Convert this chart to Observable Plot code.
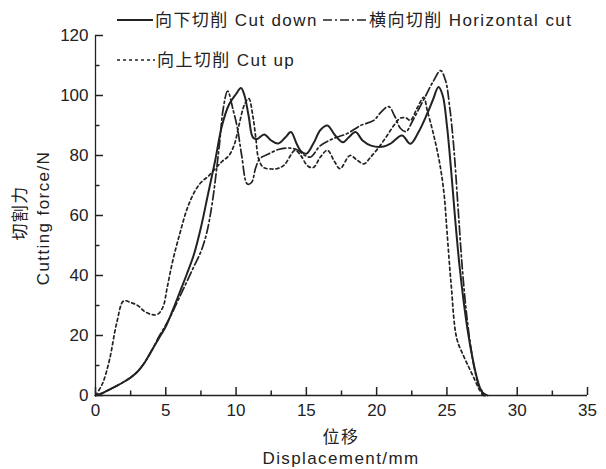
<!DOCTYPE html>
<html><head><meta charset="utf-8">
<script src="https://cdn.jsdelivr.net/npm/d3@7"></script>
<script src="https://cdn.jsdelivr.net/npm/@observablehq/plot@0.6"></script>
<style>
body{margin:0;background:#fff;}
#wrap{position:relative;width:606px;height:469px;font-family:"Liberation Sans","Noto Sans CJK SC",sans-serif;color:#222;overflow:hidden;}
.t{position:absolute;white-space:nowrap;font-size:17px;line-height:1;letter-spacing:1.4px;}
.rot{position:absolute;white-space:nowrap;font-size:17px;line-height:1;letter-spacing:1.4px;transform:translate(-50%,-50%) rotate(-90deg);}
</style></head><body><div id="wrap"></div>
<script>
// ---- data ----
const seriesNames = ["向下切削 Cut down", "横向切削 Horizontal cut", "向上切削 Cut up"];

const cutDownX = [0,0.5,1,1.5,2,2.5,3,3.5,4,4.5,5,5.5,6,6.5,7,7.5,8,8.5,9,9.5,10,10.35,10.6,10.9,11.2,11.5,12,12.5,13,13.5,13.9,14.3,14.6,15,15.5,16,16.5,17,17.6,18,18.5,19,19.6,20.5,21,21.8,22.4,23,23.6,24,24.4,24.7,25,25.3,25.6,25.9,26.2,26.5,26.8,27.1,27.4,27.7];
const cutDownY = [0,0.8,2,3.2,4.5,6,8,11,15,19,23,28.5,34.5,40.5,47,56,67,78,90,97,100.5,102.5,100,93,86,85.5,87,85,84,86,87.8,84,81.5,80.6,84,88.5,90,87,84.4,86,87.8,85,83.3,83,84,86.7,83.9,88,94,98.5,102.8,100,90,75,58,43,31,21,13,6.5,2,0];

const horizX = [0,0.5,1,1.5,2,2.5,3,3.5,4,4.5,5,5.5,6,6.5,7,7.5,7.9,8.3,8.8,9.1,9.4,9.8,10.1,10.4,10.8,11.1,11.4,11.7,12.3,13,13.7,14.3,14.9,15.3,16,16.9,17.9,18.85,19.8,20.3,20.85,21.3,21.7,22.1,22.5,23,23.5,24,24.55,24.9,25.2,25.5,25.8,26.1,26.4,26.7,27,27.3,27.6,27.9];
const horizY = [0,0.8,2,3.2,4.5,6,8,11,15,19.5,23.5,28,33,38,43,48,54,64,83,96,101.5,95,89,80,70.5,71,76,79,80.5,82,82.5,82,80,79.5,83.3,85.6,87.3,90,91.7,94.4,96.3,93,89,88,91,95.5,100,104.5,108.3,105,96,82,62,42,27,16,8,3,0.8,0];

const cutUpX = [0,0.5,1,1.5,2,2.5,3,3.5,4,4.4,4.8,5.1,5.5,6,6.5,7,7.5,8,8.5,9,9.5,9.9,10.2,10.6,10.9,11.2,11.4,11.6,11.95,12.5,12.9,13.4,14.2,14.6,15.1,15.5,16,16.5,17,17.4,18.1,18.6,19.1,19.56,20.2,20.75,21.3,21.7,22.1,22.4,22.9,23.35,23.6,24.05,24.5,24.8,25,25.3,25.7,26.2,26.6,27,27.3,27.6];
const cutUpY = [0,4,12,24,31.5,31,30,28,27,27,29.5,36,45,54,62,67.5,71,73,75.5,78,80,84,90,97,99,93,86,79,76,75.5,75.6,76.7,81.7,80,76.5,76,79.5,81.7,78,75.6,80,78.5,77.2,79.4,83,86.7,90.5,92.5,92.5,91.7,96,99.4,95,87,77,67,55,37,19,13,9,5,2,0];

const xTicks = [0,5,10,15,20,25,30,35];
const xMinor = [2.5,7.5,12.5,17.5,22.5,27.5,32.5];
const yTicks = [0,20,40,60,80,100,120];
const yMinor = [10,30,50,70,90,110];

// ---- layout ----
const W = 606, H = 469, mL = 95, mR = 19, mT = 35, mB = 74;
const xDomain = [0, 35], yDomain = [0, 120];
// inward tick lengths, converted from pixels into data units
const pxPerX = (W - mL - mR) / (xDomain[1] - xDomain[0]);
const pxPerY = (H - mT - mB) / (yDomain[1] - yDomain[0]);
const tickMajX = 8 / pxPerY, tickMinX = 4.5 / pxPerY;
const tickMajY = 8 / pxPerX, tickMinY = 4.5 / pxPerX;

// ---- build ----
const toRows = (name, xs, ys) => xs.map((x, i) => ({series: name, x, y: ys[i]}));
const dDown = toRows(seriesNames[0], cutDownX, cutDownY);
const dHoriz = toRows(seriesNames[1], horizX, horizY);
const dUp = toRows(seriesNames[2], cutUpX, cutUpY);

const ink = "#222";
const fontFam = '"Liberation Sans","Noto Sans CJK SC",sans-serif';

const chart = Plot.plot({
  width: W, height: H,
  marginLeft: mL, marginRight: mR, marginTop: mT, marginBottom: mB,
  style: {fontFamily: fontFam, fontSize: "17px", color: ink, background: "white", overflow: "visible"},
  x: {domain: xDomain, label: null},
  y: {domain: yDomain, label: null},
  marks: [
    Plot.axisX(xTicks, {tickSize: 0, tickPadding: 8, fill: ink, label: null}),
    Plot.axisY(yTicks, {tickSize: 0, tickPadding: 7, fill: ink, label: null}),
    Plot.ruleX(xTicks, {x: d => d, y1: 0, y2: tickMajX, stroke: ink, strokeWidth: 1.5}),
    Plot.ruleX(xMinor, {x: d => d, y1: 0, y2: tickMinX, stroke: ink, strokeWidth: 1.5}),
    Plot.ruleY(yTicks, {y: d => d, x1: 0, x2: tickMajY, stroke: ink, strokeWidth: 1.5}),
    Plot.ruleY(yMinor, {y: d => d, x1: 0, x2: tickMinY, stroke: ink, strokeWidth: 1.5}),
    Plot.ruleY([0], {stroke: ink, strokeWidth: 1.3}),
    Plot.ruleX([0], {stroke: ink, strokeWidth: 1.3}),
    Plot.line(dUp, {x: "x", y: "y", stroke: ink, strokeWidth: 1.7, strokeDasharray: "3,3", curve: "catmull-rom"}),
    Plot.line(dHoriz, {x: "x", y: "y", stroke: ink, strokeWidth: 1.7, strokeDasharray: "9,3,2,3", curve: "catmull-rom"}),
    Plot.line(dDown, {x: "x", y: "y", stroke: ink, strokeWidth: 2, curve: "catmull-rom"})
  ]
});

const wrap = document.getElementById("wrap");
chart.style.position = "absolute";
chart.style.left = "0px";
chart.style.top = "0px";
wrap.appendChild(chart);

// legend (inside plot area)
const ns = "http://www.w3.org/2000/svg";
const leg = document.createElementNS(ns, "svg");
leg.setAttribute("width", W); leg.setAttribute("height", 80);
leg.style.position = "absolute"; leg.style.left = "0px"; leg.style.top = "0px";
leg.style.fontFamily = fontFam; leg.style.fontSize = "17px"; leg.style.letterSpacing = "1.4px";
const legendItems = [
  {name: seriesNames[0], dash: null, x: 117, y: 20, w: 36},
  {name: seriesNames[1], dash: "9,3,2,3", x: 323, y: 20, w: 44},
  {name: seriesNames[2], dash: "3,3", x: 117, y: 60, w: 38}
];
legendItems.forEach(it => {
  const l = document.createElementNS(ns, "line");
  l.setAttribute("x1", it.x); l.setAttribute("x2", it.x + it.w);
  l.setAttribute("y1", it.y); l.setAttribute("y2", it.y);
  l.setAttribute("stroke", ink); l.setAttribute("stroke-width", it.dash ? 1.7 : 2);
  if (it.dash) l.setAttribute("stroke-dasharray", it.dash);
  leg.appendChild(l);
  const t = document.createElementNS(ns, "text");
  t.setAttribute("x", it.x + it.w + 2); t.setAttribute("y", it.y);
  t.setAttribute("dominant-baseline", "central");
  t.setAttribute("fill", ink);
  t.textContent = it.name;
  leg.appendChild(t);
});
wrap.appendChild(leg);

// axis titles
function addText(cls, txt, css) {
  const d = document.createElement("div");
  d.className = cls; d.textContent = txt;
  Object.assign(d.style, css);
  wrap.appendChild(d);
}
addText("t", "位移", {left: "341px", top: "437px", transform: "translate(-50%,-50%)"});
addText("t", "Displacement/mm", {left: "341px", top: "458px", transform: "translate(-50%,-50%)"});
addText("rot", "切割力", {left: "20px", top: "213px"});
addText("rot", "Cutting force/N", {left: "43px", top: "218px"});
</script>
</body></html>
